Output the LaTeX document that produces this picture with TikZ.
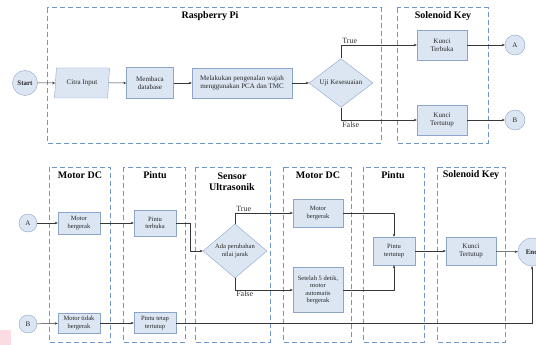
\documentclass[tikz,border=0pt]{standalone}
\usepackage{fontspec}
\setmainfont{Liberation Serif}
\usepackage{tikz}
\usetikzlibrary{arrows.meta}
\usetikzlibrary{shapes.geometric}
\usetikzlibrary{calc,positioning}

\definecolor{boxfill}{RGB}{220,230,243}
\definecolor{boxline}{RGB}{140,165,200}
\definecolor{lane}{RGB}{112,152,204}
\definecolor{wire}{RGB}{55,55,55}
\definecolor{pinkpatch}{RGB}{250,220,226}

\tikzset{
    proc/.style = {draw=boxline, fill=boxfill, rectangle, align=center, inner sep=1pt,
                   text=black!85, font=\fontsize{7}{8}\selectfont},
    term/.style = {draw=boxline, fill=boxfill, circle, inner sep=0pt, text=black!85,
                   font=\fontsize{7}{8}\selectfont},
    decide/.style = {draw=boxline, fill=boxfill, diamond, align=center, inner sep=0pt,
                   text=black!85, font=\fontsize{7}{8}\selectfont},
    slanted/.style = {draw=boxline, fill=boxfill, trapezium, trapezium left angle=77,
                   trapezium right angle=103, trapezium stretches body, inner sep=1pt,
                   text=black!85, font=\fontsize{7}{8}\selectfont},
    lanebox/.style = {draw=lane, line width=1pt, dash pattern=on 5pt off 3pt},
    lanetitle/.style = {font=\bfseries\fontsize{10}{11}\selectfont, align=center},
    wirelabel/.style = {font=\fontsize{8}{9}\selectfont, inner sep=1pt, text=black!80},
    flow/.style = {->, draw=wire, line width=0.5pt}
}

\begin{document}
\begin{tikzpicture}[>={Stealth[length=3pt,width=2.5pt]}, x=1pt, y=-1pt]

    \useasboundingbox (0,0) rectangle (536,345);
    \fill[pinkpatch] (0,330) rectangle (11,345);

    % top part
    \draw[lanebox] (47,8) rectangle (381,143);
    \draw[lanebox] (397,8) rectangle (488,143);
    \node[lanetitle] (tRasp) at (210,16) {Raspberry Pi};
    \node[lanetitle] (tSol) at (443,16) {Solenoid Key};

    \node[term, minimum size=25pt, font=\bfseries\fontsize{7}{8}\selectfont] (start) at (25,83) {Start};
    \node[slanted, minimum width=55pt, minimum height=30pt] (citra) at (82,83) {Citra Input};
    \node[proc, minimum width=47pt, minimum height=31pt] (baca) at (150,83) {Membaca\\database};
    \node[proc, minimum width=100pt, minimum height=30pt] (kenal) at (242,83)
        {Melakukan pengenalan wajah\\menggunakan PCA dan TMC};
    \node[decide, minimum width=64pt, minimum height=47pt] (uji) at (341,83) {Uji Kesesuaian};
    \node[proc, minimum width=50pt, minimum height=30pt] (buka) at (442,45) {Kunci\\Terbuka};
    \node[proc, minimum width=50pt, minimum height=30pt] (tutup) at (442,120) {Kunci\\Tertutup};
    \node[term, minimum size=20pt] (A) at (515,45) {A};
    \node[term, minimum size=20pt] (B) at (515,120) {B};

    \draw[flow] (start) -- (citra);
    \draw[flow] (citra) -- (baca);
    \draw[flow] (baca) -- (kenal);
    \draw[flow] (kenal) -- (uji);
    \draw[flow] (uji.north) |- node[pos=0.5, above right, wirelabel] {True} (buka.west);
    \draw[flow] (uji.south) |- node[pos=0.5, below right, wirelabel, yshift=-1pt] {False} (tutup.west);
    \draw[flow] (buka) -- (A);
    \draw[flow] (tutup) -- (B);

    % bottom part
    \draw[lanebox] (49,167) rectangle (110,342);
    \draw[lanebox] (123,167) rectangle (185,342);
    \draw[lanebox] (195,167) rectangle (270,342);
    \draw[lanebox] (283,167) rectangle (351,342);
    \draw[lanebox] (363,167) rectangle (424,342);
    \draw[lanebox] (437,167) rectangle (505,342);
    \node[lanetitle] (tMotor) at (80,175) {Motor DC};
    \node[lanetitle] (tPintu) at (155,175) {Pintu};
    \node[lanetitle] (tSensor) at (232,182) {Sensor\\Ultrasonik};
    \node[lanetitle] (tMotor2) at (318,175) {Motor DC};
    \node[lanetitle] (tPintu2) at (393,175) {Pintu};
    \node[lanetitle] (tSol2) at (471,175) {Solenoid Key};

    \node[term, minimum size=18pt] (A2) at (28,223) {A};
    \node[term, minimum size=18pt] (B2) at (28,324) {B};
    \node[proc, minimum width=42pt, minimum height=22pt, font=\fontsize{6.5}{7.5}\selectfont] (gerakA) at (79,223) {Motor\\bergerak};
    \node[proc, minimum width=42pt, minimum height=26pt, font=\fontsize{6.5}{7.5}\selectfont] (pintuBuka) at (155,223) {Pintu\\terbuka};
    \node[decide, minimum width=64pt, minimum height=54pt, font=\fontsize{6.5}{7.5}\selectfont] (jarak) at (235,251) {Ada perubahan\\nilai jarak};
    \node[proc, minimum width=50pt, minimum height=28pt, font=\fontsize{6.5}{7.5}\selectfont] (gerakB) at (318,213) {Motor\\bergerak};
    \node[proc, minimum width=50pt, minimum height=45pt, font=\fontsize{6.5}{7.5}\selectfont] (lima) at (318,290)
        {Setelah 5 detik,\\motor\\automatis\\bergerak};
    \node[proc, minimum width=42pt, minimum height=28pt, font=\fontsize{6.5}{7.5}\selectfont] (pintuTutup) at (394,251) {Pintu\\tertutup};
    \node[proc, minimum width=50pt, minimum height=28pt] (kunci) at (471,251) {Kunci\\Tertutup};
    \node[term, minimum size=28pt, font=\bfseries\fontsize{7}{8}\selectfont] (end) at (532,252) {End};
    \node[proc, minimum width=42pt, minimum height=20pt, font=\fontsize{6.5}{7.5}\selectfont] (diam) at (79,323) {Motor tidak\\bergerak};
    \node[proc, minimum width=42pt, minimum height=21pt, font=\fontsize{6.5}{7.5}\selectfont] (tetap) at (155,323) {Pintu tetap\\tertutup};

    \draw[flow] (A2) -- (gerakA);
    \draw[flow] (gerakA) -- (pintuBuka);
    \draw[flow] (pintuBuka.east) -- ++(14,0) |- (jarak.west);
    \draw[flow] (jarak.north) |- node[pos=0.5, above right, wirelabel] {True} (gerakB.west);
    \draw[flow] (jarak.south) |- node[pos=0.5, below right, wirelabel] {False} (lima.west);
    \draw[flow] (gerakB.east) -| (pintuTutup.north);
    \draw[flow] (lima.east) -| (pintuTutup.south);
    \draw[flow] (pintuTutup) -- (kunci);
    \draw[flow] (kunci) -- (end);
    \draw[flow] (B2) -- (diam);
    \draw[flow] (diam) -- (tetap);
    \draw[flow] (tetap.east) -| (end.south);

\end{tikzpicture}
\end{document}
